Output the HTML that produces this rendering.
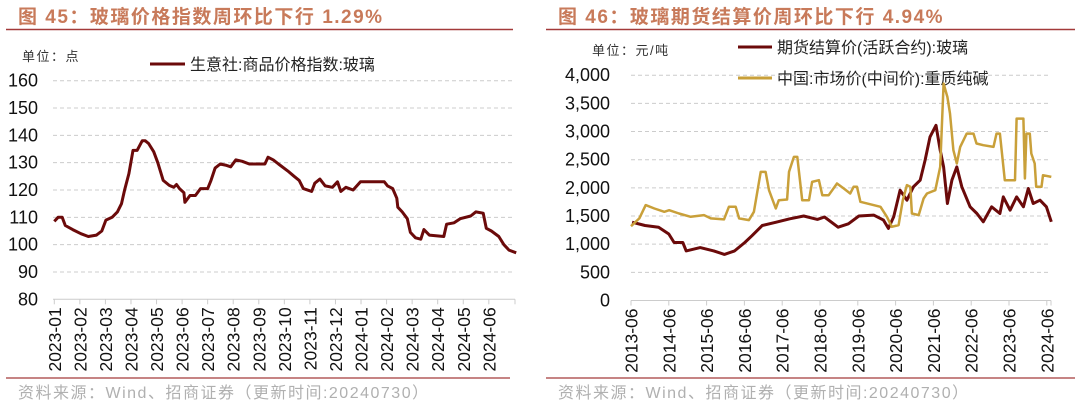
<!DOCTYPE html>
<html><head><meta charset="utf-8"><style>
body{margin:0;background:#fff;width:1080px;height:406px;overflow:hidden;font-family:"Liberation Sans","Noto Sans CJK SC",sans-serif}
svg{position:absolute;left:0;top:0}
</style></head><body>
<svg id="s" width="1080" height="406" xmlns="http://www.w3.org/2000/svg" font-family="Liberation Sans, Noto Sans CJK SC, sans-serif">
<text x="18" y="23" font-size="19" font-weight="bold" letter-spacing="1.5" fill="#c87a5a">图 45：玻璃价格指数周环比下行 1.29%</text>
<line x1="6" y1="29.5" x2="513" y2="29.5" stroke="#a33a3a" stroke-width="1.5"/>
<text x="558" y="23" font-size="19" font-weight="bold" letter-spacing="1.5" fill="#c87a5a">图 46：玻璃期货结算价周环比下行 4.94%</text>
<line x1="546" y1="29.5" x2="1075" y2="29.5" stroke="#a33a3a" stroke-width="1.5"/>
<line x1="6" y1="378" x2="510" y2="378" stroke="#a33a3a" stroke-width="1.2"/>
<line x1="546" y1="378" x2="1075" y2="378" stroke="#a33a3a" stroke-width="1.2"/>
<text x="18" y="398" font-size="16" letter-spacing="1.5" fill="#b0b0b0">资料来源：Wind、招商证券（更新时间:20240730）</text>
<text x="558" y="398" font-size="16" letter-spacing="1.5" fill="#b0b0b0">资料来源：Wind、招商证券（更新时间:20240730）</text>
<text x="22" y="61" font-size="13" letter-spacing="1.5" fill="#333">单位：点</text>
<line x1="150" y1="64" x2="185" y2="64" stroke="#6b0a0a" stroke-width="3"/>
<text x="190" y="70" font-size="16" fill="#222">生意社:商品价格指数:玻璃</text>
<text x="592" y="55" font-size="13" letter-spacing="1.5" fill="#333">单位：元/吨</text>
<line x1="738" y1="47" x2="772" y2="47" stroke="#6b0a0a" stroke-width="3"/>
<text x="777" y="53" font-size="16" fill="#222">期货结算价(活跃合约):玻璃</text>
<line x1="738" y1="78" x2="772" y2="78" stroke="#c9a03a" stroke-width="3"/>
<text x="777" y="84" font-size="16" fill="#222">中国:市场价(中间价):重质纯碱</text>
<g id="L"></g><g id="R"></g>
</svg>
<script>
// Left chart data (month index from 2023-01)
const leftMonths=[0,0.15,0.31,0.43,0.72,1.04,1.33,1.65,1.86,2.02,2.26,2.47,2.63,2.75,2.92,3.08,3.24,3.44,3.56,3.69,3.89,4.05,4.26,4.5,4.67,4.78,4.9,5.07,5.11,5.31,5.52,5.72,6.0,6.13,6.29,6.49,6.74,6.9,7.1,7.35,7.63,8.24,8.36,8.57,8.77,9.13,9.38,9.58,9.74,10.07,10.19,10.39,10.6,10.88,11.08,11.21,11.41,11.69,11.98,12.91,13.04,13.24,13.4,13.44,13.61,13.81,13.93,14.13,14.34,14.46,14.67,15.24,15.35,15.64,15.88,16.29,16.49,16.78,16.9,17.1,17.39,17.59,17.79,18.07];
const leftValues=[108.5,110,110,107,105.5,104,103,103.5,105,109,110,112,115,120,126,134.5,134.5,138,138,137,134,130,123.5,121.7,121,122,120.5,119,115.5,118,118,120.5,120.5,123.5,128,129.5,129,128.5,131,130.5,129.5,129.5,132,131,129.5,127,125,123.5,120.5,119.5,122.5,124,121.5,121,123,119.5,121,120,123,123,121.5,120.5,117,113.7,112,109.5,104.5,102.5,102,105.5,103.5,103,107.5,108,109.5,110.5,112,111.5,106,105,103,100,98,97];
const leftTicks=[80,90,100,110,120,130,140,150,160];
const leftLabels=["2023-01","2023-02","2023-03","2023-04","2023-05","2023-06","2023-07","2023-08","2023-09","2023-10","2023-11","2023-12","2024-01","2024-02","2024-03","2024-04","2024-05","2024-06"];
// Right chart data (years since 2013-06)
const glassT=[0.03,0.37,0.73,1.0,1.14,1.37,1.46,1.83,2.19,2.47,2.74,3.01,3.2,3.47,3.84,4.2,4.57,4.93,5.12,5.48,5.75,6.03,6.42,6.68,6.81,6.95,7.12,7.3,7.47,7.65,7.78,7.91,8.07,8.18,8.27,8.37,8.49,8.62,8.75,8.97,9.15,9.32,9.54,9.76,9.85,10.03,10.2,10.38,10.51,10.64,10.82,10.99,11.12];
const glassValues=[1391,1331,1301,1181,1030,1030,880,940,880,819,880,1030,1150,1331,1391,1451,1500,1440,1482,1301,1361,1500,1516,1427,1280,1486,1959,1781,2018,2136,2491,2904,3111,2668,2372,1723,2136,2372,2018,1663,1545,1397,1663,1545,1840,1604,1840,1663,1989,1723,1781,1663,1397];
const sodaT=[0.0,0.22,0.39,0.62,0.88,1.01,1.27,1.58,1.93,2.11,2.46,2.59,2.77,2.86,3.12,3.25,3.43,3.56,3.65,3.83,3.91,4.13,4.18,4.31,4.4,4.53,4.71,4.79,4.97,5.06,5.23,5.45,5.63,5.8,5.89,5.98,6.07,6.6,6.77,6.9,7.08,7.19,7.3,7.39,7.43,7.61,7.74,7.83,8.05,8.18,8.27,8.37,8.44,8.53,8.62,8.71,8.88,9.06,9.14,9.32,9.59,9.67,9.76,9.89,10.16,10.2,10.38,10.42,10.46,10.55,10.59,10.68,10.72,10.86,10.9,11.12];
const sodaValues=[1320,1457,1693,1634,1575,1604,1545,1486,1516,1457,1439,1663,1663,1457,1427,1575,2284,2284,1959,1634,1781,1793,2284,2549,2549,1781,1781,2106,2136,1870,1870,2077,1989,1900,2018,2018,1752,1663,1486,1309,1338,1781,2048,2018,1545,1516,1811,1900,1959,2372,3850,3613,3318,2668,2432,2727,2964,2964,2787,2757,2727,2964,2964,2136,2136,3230,3230,2166,2964,2964,2609,2432,2018,2018,2225,2195];
const rightTicks=[0,500,1000,1500,2000,2500,3000,3500,4000];
const rightLabels=["2013-06","2014-06","2015-06","2016-06","2017-06","2018-06","2019-06","2020-06","2021-06","2022-06","2023-06","2024-06"];

const NS="http://www.w3.org/2000/svg";
function mk(tag,attrs,parent,txt){const e=document.createElementNS(NS,tag);for(const k in attrs)e.setAttribute(k,attrs[k]);if(txt!==undefined)e.textContent=txt;parent.appendChild(e);return e;}

function drawChart(g,o){
  const {x0,x1,yTop,yBot,vmin,vmax,ticks,fmt,labels,labelX,series,labelRight}=o;
  const y=v=>yBot-(v-vmin)/(vmax-vmin)*(yBot-yTop);
  ticks.forEach(t=>{
    if(t!==vmin){const l=mk('line',{x1:x0,x2:x1,y1:y(t),y2:y(t),stroke:'#ccc','stroke-dasharray':'4,3','stroke-width':1},g);
    
    }
    const tx=mk('text',{x:labelRight,y:y(t)+6,'font-size':18,'text-anchor':'end',fill:'#111'},g,fmt(t));
    
    
  });
  const ax=mk('line',{x1:x0,x2:x1,y1:yBot,y2:yBot,stroke:'#ccc','stroke-width':1},g);
  
  
  labels.forEach((lb,i)=>{
    const xx=labelX(i);
    const tk=mk('line',{x1:xx,x2:xx,y1:yBot,y2:yBot+5,stroke:'#ccc'},g);
    
    
    const t=mk('text',{x:0,y:0,'font-size':17.5,'text-anchor':'end',fill:'#111',transform:`translate(${xx+6.5},${yBot+8}) rotate(-90)`},g,lb);
    
    
  });
  const endT=mk('line',{x1:x1,x2:x1,y1:yBot,y2:yBot+5,stroke:'#ccc'},g);
  
  
  series.forEach(s=>{
    const d=s.xs.map((xv,i)=>(i?'L':'M')+s.xf(xv).toFixed(1)+','+y(s.vs[i]).toFixed(1)).join('');
    const p=mk('path',{d:d,fill:'none',stroke:s.color,'stroke-width':s.w,'stroke-linejoin':'round'},g);
    
    
  });
}
const lx=m=>54.3+m*25.56;
drawChart(document.getElementById('L'),{x0:53,x1:515,yTop:80.7,yBot:299.3,vmin:80,vmax:160,ticks:leftTicks,fmt:t=>String(t),labels:leftLabels,labelX:i=>lx(i),labelRight:38,
  series:[{xs:leftMonths,vs:leftValues,xf:lx,color:'#6b0a0a',w:3,name:'glass-index-line'}]});
const rx=t=>631+t*37.8;
drawChart(document.getElementById('R'),{x0:631,x1:1051,yTop:75.2,yBot:300.5,vmin:0,vmax:4000,ticks:rightTicks,fmt:t=>t.toLocaleString('en-US'),labels:rightLabels,labelX:i=>rx(i),labelRight:610,
  series:[{xs:glassT,vs:glassValues,xf:rx,color:'#6b0a0a',w:3,name:'glass-futures-line'},{xs:sodaT,vs:sodaValues,xf:rx,color:'#c9a03a',w:2.5,name:'soda-ash-line'}]});
</script>
</body></html>
